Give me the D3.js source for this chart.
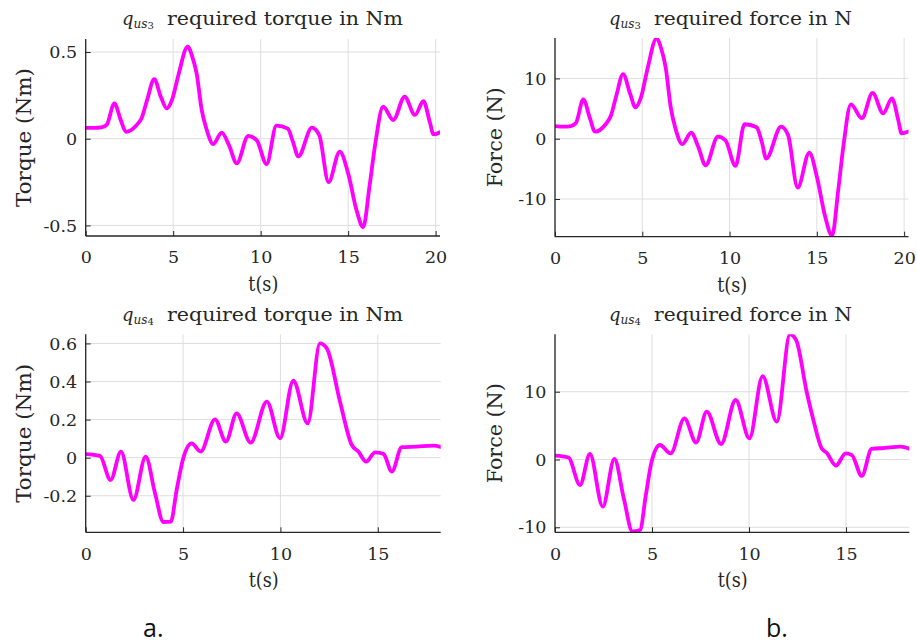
<!DOCTYPE html>
<html>
<head>
<meta charset="utf-8">
<script src="https://cdn.jsdelivr.net/npm/d3@7"></script>
<style>
  html, body { margin: 0; padding: 0; background: #ffffff; }
  svg { display: block; }
</style>
</head>
<body>
<svg id="chart" width="917" height="643"></svg>
<script>
// ---------------- DATA ----------------
// q_us3 required torque (Nm)
const tTorque3 = [0, 0.5, 0.9, 1.2, 1.64, 2.0, 2.3, 2.9, 3.2, 3.5, 3.92, 4.3, 4.63, 4.92, 5.3, 5.83, 6.1, 6.34, 6.63, 6.92, 7.29, 7.77, 8.2, 8.63, 9.29, 9.77, 10.34, 10.9, 11.55, 11.85, 12.15, 12.93, 13.35, 13.88, 14.52, 15.0, 15.5, 15.86, 16.23, 16.55, 17.0, 17.58, 18.23, 18.82, 19.3, 19.67, 19.88, 20.25];
const vTorque3 = [0.063, 0.062, 0.065, 0.08, 0.204, 0.108, 0.04, 0.078, 0.12, 0.22, 0.343, 0.24, 0.175, 0.22, 0.368, 0.531, 0.47, 0.377, 0.166, 0.05, -0.031, 0.035, -0.04, -0.142, 0.016, -0.008, -0.146, 0.076, 0.058, -0.02, -0.102, 0.064, 0.02, -0.25, -0.075, -0.2, -0.42, -0.51, -0.267, -0.03, 0.185, 0.108, 0.242, 0.137, 0.216, 0.095, 0.025, 0.037];

// q_us3 required force (N)
const tForce3 = [0, 0.5, 0.9, 1.2, 1.62, 2.0, 2.29, 2.9, 3.2, 3.5, 3.9, 4.3, 4.61, 4.92, 5.3, 5.81, 6.1, 6.34, 6.63, 6.92, 7.3, 7.8, 8.2, 8.63, 9.33, 9.77, 10.34, 10.86, 11.55, 11.85, 12.1, 12.95, 13.35, 13.9, 14.57, 15.0, 15.5, 15.87, 16.23, 16.53, 16.95, 17.58, 18.19, 18.8, 19.3, 19.67, 19.85, 20.25];
const vForce3 = [2.1, 2.0, 2.1, 2.6, 6.5, 3.4, 1.16, 2.4, 3.8, 7.0, 10.7, 7.5, 5.2, 6.8, 11.6, 16.6, 14.8, 11.8, 5.2, 1.5, -0.9, 1.0, -1.3, -4.4, 0.33, -0.3, -4.5, 2.4, 1.9, -0.6, -3.3, 2.0, 0.6, -8.1, -2.3, -6.3, -13.2, -16.1, -8.4, -1.0, 5.7, 3.4, 7.6, 4.2, 6.7, 3.0, 0.9, 1.2];

// q_us4 required torque (Nm)
const tTorque4 = [0, 0.73, 1.28, 1.81, 2.45, 3.08, 3.56, 3.99, 4.37, 4.67, 5.01, 5.44, 5.9, 6.64, 7.2, 7.75, 8.47, 9.3, 9.98, 10.66, 11.4, 12.03, 12.38, 13.06, 13.66, 14.0, 14.4, 14.86, 15.29, 15.72, 16.23, 17.0, 17.85, 18.23];
const vTorque4 = [0.019, 0.009, -0.117, 0.032, -0.222, 0.005, -0.187, -0.338, -0.336, -0.17, -0.003, 0.075, 0.032, 0.201, 0.084, 0.233, 0.079, 0.294, 0.102, 0.404, 0.18, 0.6, 0.574, 0.294, 0.067, 0.032, -0.021, 0.028, 0.02, -0.073, 0.055, 0.058, 0.063, 0.056];

// q_us4 required force (N)
const tForce4 = [0, 0.69, 1.29, 1.8, 2.46, 3.06, 3.55, 3.99, 4.38, 4.68, 4.98, 5.41, 5.96, 6.67, 7.27, 7.82, 8.56, 9.31, 10.02, 10.7, 11.43, 12.11, 12.43, 12.97, 13.32, 13.74, 14.0, 14.48, 14.98, 15.3, 15.81, 16.32, 17.0, 17.8, 18.26];
const vForce4 = [0.56, 0.3, -3.76, 0.81, -6.96, 0.07, -5.8, -10.6, -10.4, -5.3, -0.3, 2.14, 0.9, 6.07, 2.5, 7.05, 2.29, 8.78, 3.12, 12.3, 5.58, 18.47, 17.6, 10.0, 5.8, 1.65, 1.0, -0.9, 0.9, 0.65, -2.43, 1.55, 1.7, 1.9, 1.6];

// axis ticks and labels
const xTicksTop = [0, 5, 10, 15, 20];
const xTicksBottom = [0, 5, 10, 15];
const yTicksTorque3 = [-0.5, 0, 0.5];
const yLabelsTorque3 = ["-0.5", "0", "0.5"];
const yTicksForce3 = [-10, 0, 10];
const yLabelsForce3 = ["-10", "0", "10"];
const yTicksTorque4 = [-0.2, 0, 0.2, 0.4, 0.6];
const yLabelsTorque4 = ["-0.2", "0", "0.2", "0.4", "0.6"];
const yTicksForce4 = [-10, 0, 10];
const yLabelsForce4 = ["-10", "0", "10"];

const titleSub3 = "3";
const titleSub4 = "4";
const titleTorque = "required torque in Nm";
const titleForce = "required force in N";
const xLabel = "t(s)";
const yLabelTorque = "Torque (Nm)";
const yLabelForce = "Force (N)";
const figLabels = ["a.", "b."];

// ---------------- LAYOUT ----------------
const panels = [
  { t: tTorque3, v: vTorque3, x0: 85.7, x1: 440, y0: 39, y1: 236,
    xDom: [0, 20.25], yDom: [-0.561, 0.575], xTicks: xTicksTop,
    yTicks: yTicksTorque3, yLabels: yLabelsTorque3,
    sub: titleSub3, title: titleTorque, titleX: 122, titleW: 236, titleY: 25,
    yLab: yLabelTorque, yLabX: 31, yLabLen: 139 },
  { t: tForce3, v: vForce3, x0: 555, x1: 908.5, y0: 38, y1: 236.7,
    xDom: [0, 20.25], yDom: [-16.25, 16.7], xTicks: xTicksTop,
    yTicks: yTicksForce3, yLabels: yLabelsForce3,
    sub: titleSub3, title: titleForce, titleX: 609, titleW: 198, titleY: 25,
    yLab: yLabelForce, yLabX: 502, yLabLen: 100 },
  { t: tTorque4, v: vTorque4, x0: 85.7, x1: 440.7, y0: 334.3, y1: 532.3,
    xDom: [0, 18.23], yDom: [-0.392, 0.648], xTicks: xTicksBottom,
    yTicks: yTicksTorque4, yLabels: yLabelsTorque4,
    sub: titleSub4, title: titleTorque, titleX: 122, titleW: 236, titleY: 320.5,
    yLab: yLabelTorque, yLabX: 31, yLabLen: 139 },
  { t: tForce4, v: vForce4, x0: 555, x1: 909.3, y0: 334.3, y1: 532.3,
    xDom: [0, 18.26], yDom: [-10.74, 18.47], xTicks: xTicksBottom,
    yTicks: yTicksForce4, yLabels: yLabelsForce4,
    sub: titleSub4, title: titleForce, titleX: 609, titleW: 198, titleY: 320.5,
    yLab: yLabelForce, yLabX: 502, yLabLen: 100 }
];

const SERIF = "'DejaVu Serif', 'Liberation Serif', serif";
const svg = d3.select("#chart");
svg.append("rect").attr("width", 917).attr("height", 643).attr("fill", "#ffffff");

panels.forEach((p, i) => {
  const x = d3.scaleLinear().domain(p.xDom).range([p.x0, p.x1]);
  const y = d3.scaleLinear().domain(p.yDom).range([p.y1, p.y0]);
  const g = svg.append("g");

  // grid
  g.append("g").selectAll("line.gx").data(p.xTicks).join("line")
    .attr("x1", d => x(d)).attr("x2", d => x(d))
    .attr("y1", p.y0).attr("y2", p.y1)
    .attr("stroke", "#dedede").attr("stroke-width", 1);
  g.append("g").selectAll("line.gy").data(p.yTicks).join("line")
    .attr("x1", p.x0).attr("x2", p.x1)
    .attr("y1", d => y(d)).attr("y2", d => y(d))
    .attr("stroke", "#dedede").attr("stroke-width", 1);

  // clip
  const cid = "clip" + i;
  svg.append("clipPath").attr("id", cid).append("rect")
    .attr("x", p.x0).attr("y", p.y0).attr("width", p.x1 - p.x0).attr("height", p.y1 - p.y0);

  // line
  const pts = p.t.map((tt, k) => [tt, p.v[k]]);
  const line = d3.line().x(d => x(d[0])).y(d => y(d[1])).curve(d3.curveMonotoneX);
  g.append("path").datum(pts)
    .attr("d", line)
    .attr("fill", "none")
    .attr("stroke", "#ff00ff")
    .attr("stroke-width", 3.8)
    .attr("stroke-linejoin", "round")
    .attr("stroke-linecap", "round")
    .attr("clip-path", `url(#${cid})`);

  // axes
  const xAxis = d3.axisBottom(x).tickValues(p.xTicks).tickFormat(d => String(d))
    .tickSize(-5).tickSizeOuter(0).tickPadding(15);
  const yAxis = d3.axisLeft(y).tickValues(p.yTicks).tickFormat((d, k) => p.yLabels[k])
    .tickSize(-5).tickSizeOuter(0).tickPadding(8.5);

  const gx = g.append("g").attr("transform", `translate(0,${p.y1})`).call(xAxis);
  const gy = g.append("g").attr("transform", `translate(${p.x0},0)`).call(yAxis);
  [gx, gy].forEach(ax => {
    ax.select(".domain").attr("stroke", "#262626").attr("stroke-width", 1.3);
    ax.selectAll(".tick line").attr("stroke", "#262626").attr("stroke-width", 1);
    ax.selectAll(".tick text").attr("fill", "#262626")
      .style("font-family", SERIF).style("font-size", "17.5px");
  });
  gx.select(".domain").attr("d", `M${p.x0},0H${p.x1}`);
  gy.select(".domain").attr("d", `M0,${p.y1}V${p.y0}`);

  // title
  const tt = svg.append("text").attr("x", p.titleX).attr("y", p.titleY)
    .attr("fill", "#262626").style("font-family", SERIF);
  tt.append("tspan").style("font-style", "italic").style("font-size", "18px").text("q");
  tt.append("tspan").attr("dy", 3).style("font-style", "italic").style("font-size", "12px").text("us");
  tt.append("tspan").attr("dy", 1).style("font-size", "10px").text(p.sub);
  svg.append("text").attr("x", p.titleX + 45).attr("y", p.titleY)
    .attr("fill", "#262626").style("font-family", SERIF).style("font-size", "18.5px")
    .attr("textLength", p.titleW).attr("lengthAdjust", "spacingAndGlyphs")
    .text(p.title);

  // x label
  svg.append("text").attr("x", (p.x0 + p.x1) / 2 + 0.5).attr("y", p.y1 + 55)
    .attr("text-anchor", "middle").attr("fill", "#262626")
    .style("font-family", SERIF).style("font-size", "20px")
    .attr("textLength", 30).attr("lengthAdjust", "spacingAndGlyphs")
    .text(xLabel);

  // y label
  const cy = (p.y0 + p.y1) / 2;
  svg.append("text")
    .attr("transform", `translate(${p.yLabX},${cy}) rotate(-90)`)
    .attr("text-anchor", "middle").attr("fill", "#262626")
    .style("font-family", SERIF).style("font-size", "21px")
    .attr("textLength", p.yLabLen).attr("lengthAdjust", "spacingAndGlyphs")
    .text(p.yLab);
});

// figure labels
svg.append("text").attr("x", 143).attr("y", 637).attr("fill", "#111")
  .style("font-family", "'Open Sans', 'Liberation Sans', sans-serif").style("font-size", "25px")
  .text(figLabels[0]);
svg.append("text").attr("x", 766).attr("y", 637).attr("fill", "#111")
  .style("font-family", "'Open Sans', 'Liberation Sans', sans-serif").style("font-size", "25px")
  .text(figLabels[1]);
</script>
</body>
</html>
